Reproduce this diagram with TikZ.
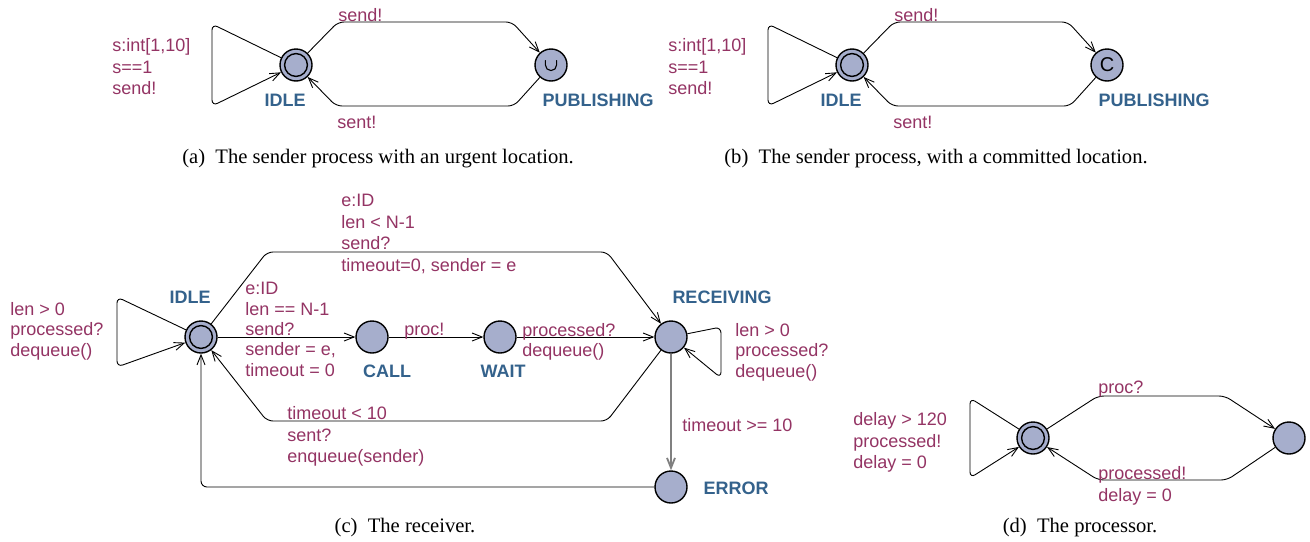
\documentclass[tikz,border=0pt]{standalone}
\usepackage{fontspec}
\setmainfont{Liberation Serif}
\setsansfont{Liberation Sans}
\usetikzlibrary{arrows.meta}
\definecolor{lblcol}{RGB}{148,52,100}
\definecolor{namecol}{RGB}{52,98,140}
\definecolor{locfill}{RGB}{166,174,204}
\begin{document}
\begin{tikzpicture}[x=0.5pt,y=-0.5pt,
  loc/.style={circle, draw, line width=0.7pt, fill=locfill, minimum size=16pt, inner sep=0pt},
  initloc/.style={loc, path picture={\draw[line width=0.7pt] (path picture bounding box.center) circle (5.7pt);}},
  lname/.style={text=namecol, font=\sffamily\bfseries\fontsize{9}{10}\selectfont, inner sep=0pt},
  lbl/.style={text=lblcol, font=\sffamily\fontsize{9}{10.2}\selectfont, align=left, anchor=north west, inner sep=0pt},
  lblwide/.style={lbl, font=\sffamily\fontsize{9}{10.8}\selectfont},
  trans/.style={draw, line width=0.45pt, rounded corners=3pt, -{Straight Barb[length=5pt,width=4pt]}},
  capt/.style={font=\fontsize{10.3}{12}\selectfont, anchor=base, inner sep=0pt}
]
\fill[white] (0,0) rectangle (1310,541);

% ---------- (a) sender with an urgent location ----------
\node[initloc] (aIdle) at (296,65) {};
\node[loc] (aPub) at (551,65) {};
% urgent mark
\draw[line width=0.55pt, line cap=round] ([xshift=-2.8pt,yshift=2.2pt]aPub.center) -- ++(0,-2.2pt)
  arc[start angle=180,end angle=360,radius=2.8pt] -- ++(0,2.2pt);
\node[lname] (aIdleN) at (285,100) {IDLE};
\node[lname] (aPubN) at (598,100) {PUBLISHING};
\draw[trans] (aIdle) -- (212,24) -- (212,106) -- (aIdle);
\draw[trans] (aIdle) -- (338,22) -- (512,22) -- (aPub);
\draw[trans] (aPub) -- (514,106) -- (336,106) -- (aIdle);
\node[lblwide] (aLoop) at (112,38) {s:int[1,10]\\s==1\\send!};
\node[lbl] (aSend) at (338,8) {send!};
\node[lbl] (aSent) at (337,116) {sent!};
\node[capt] (aCap) at (378,163) {(a)\enspace The sender process with an urgent location.};

% ---------- (b) sender with a committed location ----------
\node[initloc] (bIdle) at (852,65) {};
\node[loc, font=\sffamily\fontsize{10}{11}\selectfont] (bPub) at (1107,65) {C};
\node[lname] (bIdleN) at (841,100) {IDLE};
\node[lname] (bPubN) at (1154,100) {PUBLISHING};
\draw[trans] (bIdle) -- (768,24) -- (768,106) -- (bIdle);
\draw[trans] (bIdle) -- (894,22) -- (1068,22) -- (bPub);
\draw[trans] (bPub) -- (1070,106) -- (892,106) -- (bIdle);
\node[lblwide] (bLoop) at (668,38) {s:int[1,10]\\s==1\\send!};
\node[lbl] (bSend) at (894,8) {send!};
\node[lbl] (bSent) at (893,116) {sent!};
\node[capt] (bCap) at (936,163) {(b)\enspace The sender process, with a committed location.};

% ---------- (c) receiver ----------
\node[initloc] (cIdle) at (201,337) {};
\node[loc] (cCall) at (372,337) {};
\node[loc] (cWait) at (500,337) {};
\node[loc] (cRec) at (671,337) {};
\node[loc] (cErr) at (671,487) {};
\node[lname] (cIdleN) at (190,297) {IDLE};
\node[lname] (cCallN) at (387,371) {CALL};
\node[lname] (cWaitN) at (503,371) {WAIT};
\node[lname] (cRecN) at (722,297) {RECEIVING};
\node[lname] (cErrN) at (736,488) {ERROR};
\draw[trans] (cIdle) -- (117,297) -- (117,367) -- (cIdle);
\draw[trans] (cIdle) -- (cCall);
\draw[trans] (cCall) -- (cWait);
\draw[trans] (cWait) -- (cRec);
\draw[trans] (cIdle) -- (267,252) -- (607,252) -- (cRec);
\draw[trans] (cRec) -- (607,421) -- (267,421) -- (cIdle);
\draw[trans] (cRec) -- (721,327) -- (721,378) -- (cRec);
\draw[trans, draw=gray, line width=0.9pt] (cRec) -- (cErr);
\draw[trans] (cErr) -| (cIdle);
\node[lbl] (cIdleLoop) at (10,302) {len > 0\\processed?\\dequeue()};
\node[lblwide] (cTop) at (341,194) {e:ID\\len < N-1\\send?\\timeout=0, sender = e};
\node[lbl] (cToCall) at (245,282) {e:ID\\len == N-1\\send?\\sender = e,\\timeout = 0};
\node[lbl] (cProc) at (404,323) {proc!};
\node[lbl] (cToRec) at (522,323) {processed?\\dequeue()};
\node[lbl] (cRecLoop) at (735,323) {len > 0\\processed?\\dequeue()};
\node[lbl] (cTimeout) at (682,418) {timeout >= 10};
\node[lblwide] (cBack) at (287,406) {timeout < 10\\sent?\\enqueue(sender)};
\node[capt] (cCap) at (405,532) {(c)\enspace The receiver.};

% ---------- (d) processor ----------
\node[initloc] (dInit) at (1033,438) {};
\node[loc] (dProc) at (1289,438) {};
\draw[trans] (dInit) -- (970,398) -- (970,478) -- (dInit);
\draw[trans] (dInit) -- (1098,396) -- (1225,396) -- (dProc);
\draw[trans] (dProc) -- (1227,480) -- (1098,480) -- (dInit);
\node[lblwide] (dLoop) at (853,412) {delay > 120\\processed!\\delay = 0};
\node[lbl] (dProcL) at (1098,381) {proc?};
\node[lblwide] (dDone) at (1098,466) {processed!\\delay = 0};
\node[capt] (dCap) at (1080,532) {(d)\enspace The processor.};
\end{tikzpicture}
\end{document}
